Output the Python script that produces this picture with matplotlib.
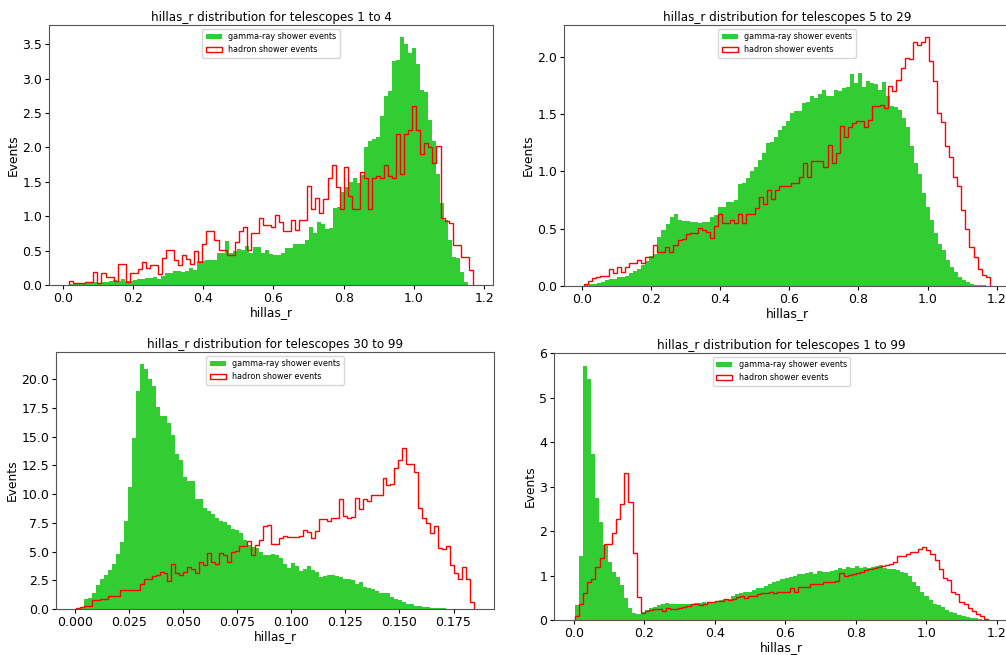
import matplotlib
matplotlib.use('Agg')
import matplotlib.pyplot as plt
import numpy as np

# bin heights, 100 bins per series (density scale)
# telescopes 1 to 4
g1_range = (0.018, 1.155)
g1 = [0.02, 0.03, 0.02, 0.02, 0.03, 0.03, 0.04, 0.03, 0.04, 0.05,
      0.06, 0.07, 0.06, 0.09, 0.06, 0.06, 0.07, 0.08, 0.09, 0.10,
      0.10, 0.11, 0.08, 0.13, 0.17, 0.17, 0.21, 0.20, 0.19, 0.20,
      0.24, 0.22, 0.35, 0.35, 0.36, 0.37, 0.37, 0.46, 0.46, 0.64,
      0.47, 0.50, 0.53, 0.51, 0.56, 0.47, 0.55, 0.55, 0.47, 0.51,
      0.45, 0.44, 0.44, 0.47, 0.54, 0.54, 0.60, 0.60, 0.60, 0.65,
      0.85, 0.75, 0.91, 0.88, 0.81, 0.83, 1.12, 1.13, 1.35, 1.42,
      1.50, 1.55, 1.48, 1.60, 2.00, 2.10, 2.12, 2.15, 2.45, 2.75,
      2.82, 3.25, 3.27, 3.60, 3.50, 3.38, 3.44, 3.22, 2.83, 2.81,
      2.40, 2.10, 1.62, 1.19, 0.95, 0.65, 0.41, 0.39, 0.19, 0.05]
h1_range = (0.018, 1.168)
h1 = [0.06, 0.035, 0.035, 0.035, 0.04, 0.04, 0.19, 0.03, 0.18, 0.12,
      0.12, 0.06, 0.31, 0.31, 0.05, 0.18, 0.18, 0.23, 0.34, 0.24,
      0.29, 0.29, 0.16, 0.39, 0.51, 0.51, 0.36, 0.29, 0.44, 0.38,
      0.31, 0.50, 0.34, 0.60, 0.78, 0.78, 0.65, 0.51, 0.51, 0.44,
      0.44, 0.63, 0.78, 0.85, 0.51, 0.75, 0.75, 0.97, 0.87, 0.87,
      0.85, 1.02, 0.92, 0.78, 0.78, 0.95, 0.80, 0.95, 0.95, 1.44,
      1.11, 1.26, 1.05, 1.25, 1.55, 1.74, 1.42, 1.10, 1.72, 1.30,
      1.10, 1.10, 1.65, 1.55, 1.10, 1.55, 1.58, 1.55, 1.75, 1.58,
      1.55, 2.20, 1.62, 2.20, 2.25, 2.60, 2.25, 1.90, 2.07, 2.00,
      1.78, 2.02, 0.98, 0.93, 0.90, 0.58, 0.58, 0.40, 0.40, 0.22]

# telescopes 5 to 29
g2_range = (0.01, 1.17)
g2 = [0.01, 0.015, 0.02, 0.025, 0.035, 0.055, 0.06, 0.065, 0.08, 0.08,
      0.09, 0.11, 0.13, 0.15, 0.18, 0.22, 0.26, 0.28, 0.43, 0.49,
      0.54, 0.60, 0.63, 0.58, 0.57, 0.57, 0.56, 0.56, 0.55, 0.56,
      0.56, 0.60, 0.62, 0.69, 0.69, 0.73, 0.73, 0.75, 0.89, 0.90,
      0.94, 1.00, 1.04, 1.10, 1.16, 1.25, 1.26, 1.30, 1.36, 1.40,
      1.44, 1.51, 1.53, 1.53, 1.60, 1.61, 1.66, 1.64, 1.68, 1.71,
      1.66, 1.66, 1.71, 1.70, 1.73, 1.74, 1.85, 1.77, 1.86, 1.74,
      1.79, 1.77, 1.76, 1.71, 1.78, 1.66, 1.57, 1.56, 1.54, 1.47,
      1.39, 1.22, 1.07, 0.98, 0.81, 0.69, 0.58, 0.46, 0.37, 0.31,
      0.23, 0.17, 0.12, 0.08, 0.055, 0.035, 0.02, 0.01, 0.008, 0.005]
h2_range = (0.007, 1.18)
h2 = [0.02, 0.04, 0.07, 0.08, 0.085, 0.09, 0.15, 0.11, 0.17, 0.12,
      0.17, 0.20, 0.20, 0.23, 0.20, 0.25, 0.25, 0.36, 0.30, 0.30,
      0.34, 0.30, 0.36, 0.40, 0.41, 0.45, 0.46, 0.46, 0.51, 0.49,
      0.47, 0.42, 0.52, 0.63, 0.55, 0.55, 0.58, 0.55, 0.63, 0.55,
      0.63, 0.63, 0.68, 0.78, 0.72, 0.84, 0.76, 0.84, 0.87, 0.87,
      0.87, 0.90, 0.90, 0.95, 1.07, 0.95, 1.09, 1.09, 1.09, 1.04,
      1.23, 1.07, 1.16, 1.40, 1.30, 1.39, 1.42, 1.44, 1.44, 1.39,
      1.45, 1.57, 1.57, 1.58, 1.55, 1.75, 1.70, 1.80, 1.90, 1.99,
      1.98, 2.13, 2.10, 2.13, 2.17, 1.96, 1.79, 1.51, 1.43, 1.22,
      1.13, 0.95, 0.87, 0.66, 0.50, 0.34, 0.25, 0.15, 0.10, 0.08]

# telescopes 30 to 99
g3_range = (0.0005, 0.1845)
g3 = [0.1, 0.2, 0.85, 0.95, 1.35, 2.1, 2.6, 3.0, 3.4, 3.9,
      4.8, 5.85, 7.7, 10.6, 14.9, 19.0, 21.3, 20.9, 20.0, 19.4,
      17.6, 16.8, 16.8, 16.2, 15.1, 13.5, 13.0, 11.5, 11.1, 11.1,
      9.6, 9.6, 8.8, 8.5, 8.3, 7.9, 7.7, 7.6, 7.3, 7.0,
      6.9, 6.6, 6.0, 5.6, 5.4, 5.3, 5.0, 4.7, 4.7, 4.8,
      4.7, 4.4, 3.9, 3.6, 4.0, 3.7, 3.3, 3.5, 3.7, 3.4,
      3.2, 2.8, 2.9, 3.0, 2.95, 2.9, 2.8, 2.6, 2.6, 2.5,
      2.2, 2.35, 1.9, 1.8, 1.7, 1.6, 1.4, 1.35, 1.4, 1.05,
      0.85, 0.75, 0.6, 0.45, 0.4, 0.3, 0.25, 0.2, 0.15, 0.12,
      0.08, 0.06, 0.06, 0.04, 0.03, 0.03, 0.02, 0.02, 0.01, 0.01]
h3_range = (0.0005, 0.1845)
h3 = [0.12, 0.17, 0.30, 0.30, 0.75, 0.75, 0.90, 0.85, 1.13, 1.13,
      1.13, 1.69, 1.69, 1.69, 1.69, 1.69, 2.20, 2.65, 2.65, 2.90,
      2.95, 3.20, 3.15, 2.40, 3.90, 3.10, 3.00, 3.20, 3.65, 3.45,
      3.15, 4.05, 3.80, 4.90, 4.10, 3.90, 4.90, 4.70, 4.10, 5.00,
      5.05, 5.45, 5.45, 5.90, 4.70, 5.60, 6.00, 7.20, 7.30, 5.70,
      5.70, 6.20, 6.35, 6.30, 6.30, 6.30, 6.35, 6.90, 6.70, 6.20,
      6.80, 7.80, 7.80, 7.70, 7.90, 7.90, 9.60, 8.10, 7.90, 8.00,
      9.70, 8.70, 9.60, 9.40, 9.90, 9.90, 9.90, 11.40, 10.80, 10.90,
      12.30, 13.00, 14.00, 12.60, 12.60, 11.90, 8.80, 7.90, 7.50, 6.60,
      7.20, 5.30, 5.20, 5.50, 3.80, 3.10, 2.60, 3.65, 2.60, 0.60]

# telescopes 1 to 99
g4_range = (0.002, 1.17)
g4 = [0.34, 1.44, 5.72, 5.42, 3.73, 2.74, 2.21, 1.69, 1.31, 1.09,
      0.96, 0.79, 0.49, 0.26, 0.15, 0.13, 0.19, 0.22, 0.26, 0.30,
      0.34, 0.37, 0.38, 0.36, 0.37, 0.35, 0.36, 0.35, 0.36, 0.38,
      0.38, 0.40, 0.39, 0.41, 0.41, 0.44, 0.47, 0.48, 0.53, 0.58,
      0.60, 0.62, 0.64, 0.68, 0.71, 0.73, 0.77, 0.80, 0.85, 0.88,
      0.92, 0.94, 0.96, 0.98, 1.03, 1.03, 1.05, 1.07, 1.03, 1.10,
      1.07, 1.09, 1.10, 1.13, 1.16, 1.15, 1.20, 1.18, 1.22, 1.18,
      1.20, 1.18, 1.20, 1.22, 1.24, 1.18, 1.15, 1.15, 1.13, 1.09,
      1.05, 0.98, 0.86, 0.77, 0.64, 0.55, 0.45, 0.37, 0.34, 0.30,
      0.22, 0.19, 0.15, 0.11, 0.09, 0.06, 0.045, 0.04, 0.02, 0.01]
h4_range = (0.002, 1.176)
h4 = [0.10, 0.35, 0.60, 0.85, 0.93, 1.20, 1.40, 1.70, 1.72, 1.95,
      2.27, 2.60, 3.30, 2.65, 1.50, 0.52, 0.15, 0.20, 0.22, 0.24,
      0.24, 0.21, 0.26, 0.25, 0.25, 0.26, 0.29, 0.31, 0.35, 0.35,
      0.34, 0.37, 0.40, 0.40, 0.43, 0.43, 0.47, 0.44, 0.47, 0.51,
      0.53, 0.50, 0.55, 0.55, 0.58, 0.60, 0.60, 0.62, 0.60, 0.64,
      0.64, 0.64, 0.71, 0.64, 0.75, 0.75, 0.75, 0.80, 0.80, 0.80,
      0.85, 0.85, 0.86, 0.88, 1.05, 1.00, 1.01, 1.03, 1.05, 1.09,
      1.13, 1.15, 1.16, 1.19, 1.22, 1.24, 1.26, 1.30, 1.43, 1.43,
      1.48, 1.54, 1.54, 1.60, 1.64, 1.58, 1.48, 1.35, 1.15, 0.94,
      0.90, 0.64, 0.58, 0.41, 0.37, 0.26, 0.20, 0.13, 0.08, 0.03]

W, H = 1006, 655


def px_rect(l, t, r, b):
    return [l / W, 1 - b / H, (r - l) / W, (b - t) / H]


def draw(ax, title, g_vals, g_range, h_vals, h_range):
    g_edges = np.linspace(g_range[0], g_range[1], len(g_vals) + 1)
    h_edges = np.linspace(h_range[0], h_range[1], len(h_vals) + 1)
    g_mid = (g_edges[:-1] + g_edges[1:]) / 2
    h_mid = (h_edges[:-1] + h_edges[1:]) / 2
    ax.hist(g_mid, bins=g_edges, weights=g_vals, color='limegreen',
            label='gamma-ray shower events')
    ax.hist(h_mid, bins=h_edges, weights=h_vals, histtype='step', color='red',
            linewidth=1.0, label='hadron shower events')
    ax.set_title(title, fontsize=8.6, pad=3)
    ax.set_xlabel('hillas_r', fontsize=8.8, labelpad=1)
    ax.set_ylabel('Events', fontsize=8.8, labelpad=2)
    ax.tick_params(labelsize=9, length=3, pad=2)
    for s in ax.spines.values():
        s.set_edgecolor('#555555')
    ax.legend(loc='upper center', fontsize=5.8)


fig = plt.figure(figsize=(W / 100, H / 100), dpi=100)
ax1 = fig.add_axes(px_rect(49, 25, 493, 285))
ax2 = fig.add_axes(px_rect(564, 25, 1010, 286))
ax3 = fig.add_axes(px_rect(56, 352, 494, 609))
ax4 = fig.add_axes(px_rect(554, 353, 1009, 620))

draw(ax1, 'hillas_r distribution for telescopes 1 to 4', g1, g1_range, h1, h1_range)
draw(ax2, 'hillas_r distribution for telescopes 5 to 29', g2, g2_range, h2, h2_range)
draw(ax3, 'hillas_r distribution for telescopes 30 to 99', g3, g3_range, h3, h3_range)
draw(ax4, 'hillas_r distribution for telescopes 1 to 99', g4, g4_range, h4, h4_range)

fig.savefig('out.png', dpi=100)
